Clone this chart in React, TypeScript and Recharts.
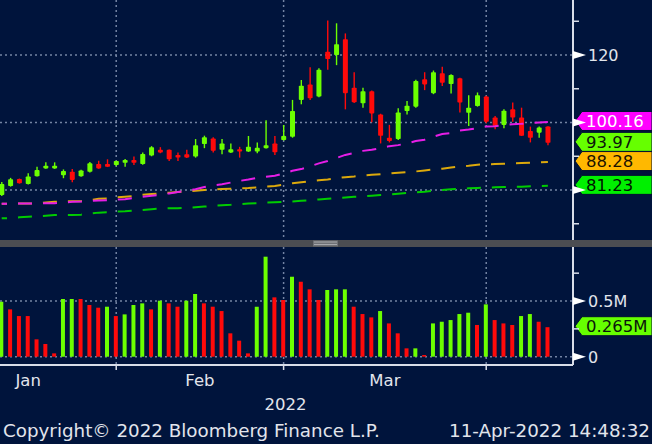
import React from "react";
import {
  ComposedChart,
  Bar,
  Line,
  XAxis,
  YAxis,
  CartesianGrid,
  ReferenceLine,
  Cell,
} from "recharts";

// daily candles, Jan 12 .. Apr 11 2022 (index = trading day)
const opens = [
  78.5, 81.2, 83.3, 81.8, 84.1, 86.4, 86.4, 84.4, 85.4, 84.1, 85.4, 87.7, 87.7,
  87.4, 88.1, 88.9, 87.7, 90.2, 91.9, 91.9, 90.4, 90.6, 89.9, 93.6, 95.3, 91.9,
  91.1, 92.1, 91.4, 91.4, 92.4, 93.8, 94.8, 95.8, 106.7, 111.3, 107.7, 121.0,
  120.0, 124.7, 110.3, 105.7, 109.3, 102.4, 95.5, 95.1, 103.4, 104.7, 112.8,
  108.7, 114.6, 111.4, 113.1, 102.9, 104.9, 107.7, 101.5, 99.3, 103.9, 101.5,
  97.5, 97.0, 98.8,
];
const highs = [
  82.4, 83.6, 83.4, 85.0, 86.9, 88.2, 88.2, 86.1, 86.2, 86.0, 88.3, 88.7, 89.1,
  88.7, 89.2, 89.9, 91.1, 93.0, 92.7, 92.0, 91.1, 91.9, 95.1, 96.1, 95.6, 95.1,
  93.8, 92.8, 96.0, 94.1, 100.7, 96.0, 99.3, 106.7, 112.6, 116.4, 116.1, 130.2,
  129.4, 126.4, 114.9, 110.3, 109.5, 102.6, 99.3, 104.2, 106.4, 112.7, 114.9,
  115.4, 116.5, 114.3, 113.3, 108.1, 108.9, 107.9, 101.9, 103.9, 105.9, 104.4,
  98.8, 98.8, 98.9,
];
const lows = [
  78.2, 81.0, 81.9, 81.6, 84.0, 86.3, 86.3, 83.5, 82.3, 83.9, 85.2, 86.3, 86.8,
  87.1, 86.9, 87.4, 87.5, 90.0, 90.9, 88.6, 88.6, 89.5, 89.6, 92.4, 91.1, 90.6,
  91.0, 89.6, 91.3, 90.9, 92.3, 90.4, 94.7, 95.5, 105.4, 106.7, 107.5, 115.6,
  117.0, 103.9, 105.8, 104.4, 100.1, 93.8, 94.1, 94.8, 102.4, 104.4, 109.6,
  108.4, 110.8, 108.6, 103.0, 99.0, 104.7, 99.8, 98.0, 98.3, 100.2, 96.0, 94.1,
  95.5, 93.3,
];
const closes = [
  81.8, 83.2, 82.0, 84.0, 85.9, 87.2, 87.2, 85.6, 83.0, 85.8, 87.9, 86.4, 86.9,
  88.6, 88.9, 88.1, 90.7, 92.7, 91.1, 89.1, 89.6, 89.6, 93.3, 95.6, 91.6, 93.8,
  92.1, 91.4, 92.8, 92.5, 93.3, 91.2, 96.0, 103.4, 110.9, 107.2, 115.6, 118.8,
  123.2, 108.7, 106.0, 109.3, 102.7, 96.1, 94.5, 103.0, 105.0, 112.3, 111.3,
  114.9, 111.8, 114.1, 105.9, 104.4, 108.1, 100.2, 99.0, 103.5, 101.5, 96.1,
  95.5, 98.5, 93.97,
];

// moving averages (magenta / orange / green)
const ma50 = [
  75.9, 75.9, 76.0, 76.0, 76.0, 76.1, 76.1, 76.3, 76.5, 76.6, 76.8, 76.9, 77.0,
  77.2, 77.3, 77.6, 78.0, 78.3, 78.6, 79.0, 79.4, 79.8, 80.2, 80.9, 81.4, 81.7,
  82.2, 82.7, 83.1, 83.6, 83.9, 84.2, 84.9, 85.7, 86.2, 87.0, 87.9, 88.6, 89.5,
  90.4, 91.0, 91.6, 91.9, 92.4, 93.0, 93.3, 93.8, 94.5, 94.9, 95.8, 96.6, 96.9,
  97.6, 97.9, 98.3, 98.8, 98.9, 99.2, 99.5, 99.6, 99.8, 100.0, 100.16,
];
const ma100 = [
  75.9, 75.9, 76.0, 76.0, 76.0, 76.3, 76.5, 76.6, 76.7, 76.7, 77.0, 77.4, 77.5,
  77.8, 78.0, 78.2, 78.6, 78.8, 79.0, 79.2, 79.4, 79.6, 79.8, 80.0, 80.2, 80.3,
  80.4, 80.5, 80.6, 80.8, 81.0, 81.2, 81.6, 82.0, 82.3, 82.6, 82.9, 83.1, 83.5,
  83.8, 84.0, 84.3, 84.5, 84.7, 84.9, 85.1, 85.3, 85.5, 85.8, 86.1, 86.3, 86.7,
  87.0, 87.2, 87.5, 87.6, 87.7, 87.8, 87.9, 88.0, 88.1, 88.2, 88.28,
];
const ma200 = [
  71.6, 71.7, 71.9, 72.1, 72.2, 72.4, 72.6, 72.6, 72.6, 72.7, 73.0, 73.3, 73.4,
  73.6, 73.7, 73.9, 74.1, 74.3, 74.5, 74.6, 74.6, 74.7, 74.9, 75.1, 75.3, 75.5,
  75.6, 75.8, 76.0, 76.1, 76.3, 76.4, 76.5, 76.6, 76.8, 77.0, 77.2, 77.4, 77.6,
  77.8, 78.0, 78.1, 78.3, 78.5, 78.7, 78.9, 79.1, 79.3, 79.5, 79.8, 80.0, 80.2,
  80.4, 80.5, 80.6, 80.7, 80.8, 80.9, 81.0, 81.0, 81.1, 81.2, 81.23,
];

// volume in millions, and whether the bar is drawn green
const volumes = [
  0.494, 0.425, 0.365, 0.365, 0.156, 0.114, 0.03, 0.518, 0.518, 0.518, 0.464,
  0.44, 0.449, 0.365, 0.38, 0.464, 0.479, 0.425, 0.503, 0.479, 0.449, 0.503,
  0.563, 0.479, 0.449, 0.41, 0.21, 0.144, 0.03, 0.449, 0.898, 0.533, 0.509,
  0.718, 0.673, 0.605, 0.509, 0.599, 0.605, 0.605, 0.449, 0.383, 0.353, 0.41,
  0.299, 0.21, 0.075, 0.075, 0.015, 0.299, 0.314, 0.329, 0.383, 0.395, 0.285,
  0.47, 0.329, 0.299, 0.285, 0.365, 0.383, 0.314, 0.265,
];
const volumeUp = [
  1, 0, 0, 0, 0, 0, 0, 1, 1, 0, 0, 0, 1, 0, 1, 1, 1, 0, 1, 0, 0, 1, 1, 0, 0, 0,
  0, 0, 0, 1, 1, 0, 0, 1, 0, 0, 0, 1, 1, 1, 0, 0, 0, 1, 0, 0, 0, 1, 0, 1, 1, 1,
  1, 1, 0, 1, 0, 0, 0, 1, 1, 0, 0,
];

const monthStarts = [13, 32, 55];
const monthLabels = [
  { at: 3, text: "Jan" },
  { at: 22.5, text: "Feb" },
  { at: 43.5, text: "Mar" },
];
const yearLabel = { at: 32, text: "2022" };
const priceTicks = [70, 80, 90, 100, 110, 120, 130];
const priceMajor = [80, 100, 120];
const priceLabelled = [120];
const volTicks = [0, 0.25, 0.5, 0.75];
const volMajor = [0, 0.5];

const BG = "#00143c";
const GRID = "#7384a3";
const AXIS = "#d8dde8";
const TEXT = "#e2e5ec";
const UP = "#6cff00";
const DOWN = "#ff0a0a";
const FONT = "DejaVu Sans, sans-serif";

const X_MIN = -0.193;
const X_MAX = 64.85;

const rows = opens.map((o, i) => ({
  i,
  open: o,
  high: highs[i],
  low: lows[i],
  close: closes[i],
  ma50: ma50[i],
  ma100: ma100[i],
  ma200: ma200[i],
  vol: volumes[i],
  up: volumeUp[i] === 1,
}));
const last = rows[rows.length - 1];

const Candle = (props: any) => {
  const { x, y, width, height, payload } = props;
  const top = Math.min(y, y + height);
  const bot = Math.max(y, y + height);
  const span = payload.high - payload.low || 1;
  const toY = (p: number) => top + ((payload.high - p) / span) * (bot - top);
  const color = payload.close >= payload.open ? UP : DOWN;
  const cx = x + width / 2;
  const yo = toY(payload.open);
  const yc = toY(payload.close);
  return (
    <g>
      <line x1={cx} x2={cx} y1={top} y2={bot} stroke={color} strokeWidth={1.4} />
      <rect
        x={x}
        y={Math.min(yo, yc)}
        width={width}
        height={Math.max(1.5, Math.abs(yo - yc))}
        fill={color}
        rx={0.8}
      />
    </g>
  );
};

const Pointer = ({ x, y }: { x: number; y: number }) => (
  <polygon points={`${x},${y - 4} ${x + 13},${y} ${x},${y + 4}`} fill="#ffffff" />
);

const PriceTick = (props: any) => {
  const { x, y, payload } = props;
  const v = payload.value;
  if (priceMajor.includes(v)) {
    return (
      <g>
        <Pointer x={x} y={y} />
        {priceLabelled.includes(v) && (
          <text x={x + 15} y={y + 6} fill={TEXT} fontSize={16} fontFamily={FONT}>
            {v}
          </text>
        )}
      </g>
    );
  }
  return <line x1={x} x2={x + 6} y1={y} y2={y} stroke={AXIS} strokeWidth={1.5} />;
};

const VolTick = (props: any) => {
  const { x, y, payload } = props;
  const v = payload.value;
  if (volMajor.includes(v)) {
    return (
      <g>
        <Pointer x={x} y={y} />
        <text x={x + 15} y={y + 6} fill={TEXT} fontSize={16} fontFamily={FONT}>
          {v === 0 ? "0" : `${v}M`}
        </text>
      </g>
    );
  }
  return <line x1={x} x2={x + 6} y1={y} y2={y} stroke={AXIS} strokeWidth={1.5} />;
};

const TimeTick = (props: any) => {
  const { x, y, payload } = props;
  const v = payload.value;
  const month = monthLabels.find((m) => m.at === v);
  if (month) {
    return (
      <text x={x} y={y + 21} textAnchor="middle" fill={TEXT} fontSize={16.5} fontFamily={FONT}>
        {month.text}
      </text>
    );
  }
  return (
    <g>
      <line x1={x} x2={x} y1={y} y2={y + 5} stroke={AXIS} strokeWidth={1.5} />
      {v === yearLabel.at && (
        <text x={x + 2} y={y + 45} textAnchor="middle" fill={TEXT} fontSize={16.5} fontFamily={FONT}>
          {yearLabel.text}
        </text>
      )}
    </g>
  );
};

const Tag = (props: any) => {
  const { viewBox, text, fill, color } = props;
  const x = viewBox.x + viewBox.width + 2;
  const cy = viewBox.y - 1;
  const h = 9.5;
  return (
    <g>
      <polygon
        points={`${x},${cy} ${x + 7},${cy - h} 652,${cy - h} 652,${cy + h} ${x + 7},${cy + h}`}
        fill={fill}
        stroke="#001030"
        strokeWidth={1}
      />
      <text x={x + 11} y={cy + 6} fill={color} fontSize={16.5} fontFamily={FONT}>
        {text}
      </text>
    </g>
  );
};

const maLine = (key: string, color: string) => (
  <Line
    dataKey={key}
    stroke={color}
    strokeWidth={2}
    strokeDasharray="14 11"
    strokeDashoffset={8.7}
    dot={false}
    activeDot={false}
    isAnimationActive={false}
  />
);

export default function App() {
  return (
    <div
      style={{
        position: "relative",
        width: 652,
        height: 444,
        background: BG,
        overflow: "hidden",
      }}
    >
      <style>{`body{margin:0;background:${BG}}`}</style>

      <div style={{ position: "absolute", left: 0, top: 0 }}>
        <ComposedChart width={652} height={240} data={rows} margin={{ top: 0, right: 0, left: 0, bottom: 0 }}>
          <CartesianGrid
            horizontalValues={priceMajor}
            verticalValues={monthStarts}
            stroke={GRID}
            strokeDasharray="2 3"
            strokeWidth={1.5}
          />
          <XAxis dataKey="i" type="number" domain={[X_MIN, X_MAX]} allowDataOverflow hide />
          <YAxis
            orientation="right"
            domain={[65.19, 136.3]}
            allowDataOverflow
            ticks={priceTicks}
            interval={0}
            width={79}
            tickSize={0}
            tickMargin={0}
            tickLine={false}
            tick={<PriceTick />}
            axisLine={{ stroke: AXIS, strokeWidth: 2 }}
          />
          <Bar
            dataKey={(d: any) => [d.low, d.high]}
            barSize={5}
            shape={<Candle />}
            activeBar={false}
            isAnimationActive={false}
          />
          {maLine("ma200", "#00cc00")}
          {maLine("ma100", "#dca90c")}
          {maLine("ma50", "#e61ee6")}
          <ReferenceLine y={last.ma50} stroke="none" label={<Tag text={last.ma50.toFixed(2)} fill="#ff00ff" color="#ffffff" />} />
          <ReferenceLine y={last.close} stroke="none" label={<Tag text={last.close.toFixed(2)} fill="#66ff00" color="#0b160b" />} />
          <ReferenceLine y={last.ma100} stroke="none" label={<Tag text={last.ma100.toFixed(2)} fill="#ffb800" color="#1a1200" />} />
          <ReferenceLine y={last.ma200} stroke="none" label={<Tag text={last.ma200.toFixed(2)} fill="#00f000" color="#001400" />} />
        </ComposedChart>
      </div>

      <svg style={{ position: "absolute", left: 0, top: 240 }} width={652} height={7}>
        <rect x={0} y={0} width={652} height={7} fill="#4b4d52" />
        <rect x={313} y={0.5} width={25} height={6} fill="#6e7075" />
        <line x1={314} x2={337} y1={2} y2={2} stroke="#a5a7ab" strokeWidth={1} />
        <line x1={314} x2={337} y1={4.5} y2={4.5} stroke="#a5a7ab" strokeWidth={1} />
      </svg>

      <div style={{ position: "absolute", left: 0, top: 247 }}>
        <ComposedChart width={652} height={197} data={rows} margin={{ top: 0, right: 0, left: 0, bottom: 0 }}>
          <CartesianGrid
            horizontalValues={volMajor}
            verticalValues={monthStarts}
            stroke={GRID}
            strokeDasharray="2 3"
            strokeWidth={1.5}
          />
          <XAxis
            dataKey="i"
            type="number"
            domain={[X_MIN, X_MAX]}
            allowDataOverflow
            ticks={[...monthLabels.map((m) => m.at), ...monthStarts].sort((a, b) => a - b)}
            interval={0}
            height={79}
            tickSize={0}
            tickMargin={0}
            tickLine={false}
            tick={<TimeTick />}
            axisLine={{ stroke: AXIS, strokeWidth: 2 }}
          />
          <YAxis
            orientation="right"
            domain={[-0.0745, 0.985]}
            allowDataOverflow
            ticks={volTicks}
            interval={0}
            width={79}
            tickSize={0}
            tickMargin={0}
            tickLine={false}
            tick={<VolTick />}
            axisLine={{ stroke: AXIS, strokeWidth: 2 }}
          />
          <Bar dataKey="vol" barSize={4} activeBar={false} isAnimationActive={false}>
            {rows.map((r) => (
              <Cell key={r.i} fill={r.up ? UP : DOWN} />
            ))}
          </Bar>
          <ReferenceLine y={last.vol} stroke="none" label={<Tag text={`${last.vol}M`} fill="#66ff00" color="#0b160b" />} />
        </ComposedChart>
      </div>

      <svg style={{ position: "absolute", left: 0, top: 0, pointerEvents: "none" }} width={652} height={444}>
        <text x={3} y={437} fill={TEXT} fontSize={18.3} fontFamily={FONT}>
          Copyright© 2022 Bloomberg Finance L.P.
        </text>
        <text x={650} y={437} textAnchor="end" fill={TEXT} fontSize={18.3} fontFamily={FONT}>
          11-Apr-2022 14:48:32
        </text>
      </svg>
    </div>
  );
}
